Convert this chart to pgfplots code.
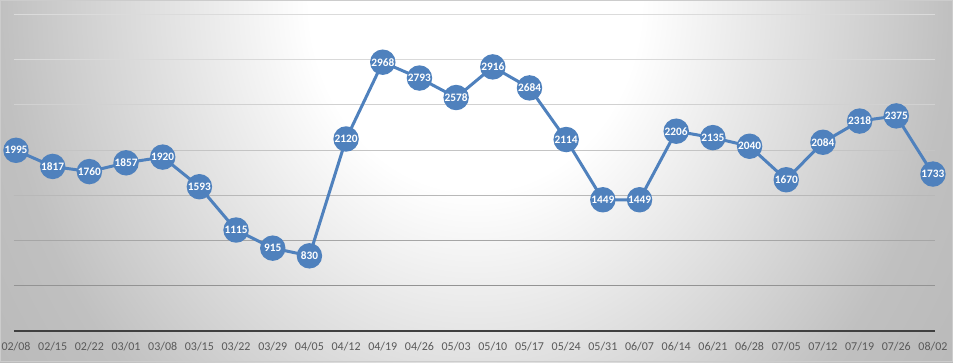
\documentclass[border=0pt]{standalone}
\usepackage{pgfplots}
\pgfplotsset{compat=1.18}
\usepackage{pgfplotstable}
\usepackage{fontspec}
\setmainfont{Carlito}
\definecolor{lineblue}{HTML}{4F81BD}
\definecolor{ticktext}{HTML}{595959}
\definecolor{axisdark}{HTML}{404040}
\definecolor{bgedge}{HTML}{C0C0C0}
\definecolor{bgcorner}{HTML}{B8B8B8}
\pgfdeclareradialshading{bgshade}{\pgfpoint{0bp}{0bp}}{color(0bp)=(white); color(6.9bp)=(white); color(19.8bp)=(bgedge); color(25bp)=(bgcorner); color(50bp)=(bgcorner)}

\pgfplotstableread{
d v
02/08 1995
02/15 1817
02/22 1760
03/01 1857
03/08 1920
03/15 1593
03/22 1115
03/29 915
04/05 830
04/12 2120
04/19 2968
04/26 2793
05/03 2578
05/10 2916
05/17 2684
05/24 2114
05/31 1449
06/07 1449
06/14 2206
06/21 2135
06/28 2040
07/05 1670
07/12 2084
07/19 2318
07/26 2375
08/02 1733
}\datatable

\begin{document}
\begin{tikzpicture}
\path[use as bounding box] (0,0) rectangle (714.75pt,271.5pt);
\begin{scope}
\clip (0,0) rectangle (714.75pt,271.5pt);
\shade[shading=bgshade] (356.25pt-450pt,271.5pt-517.5pt) rectangle (356.25pt+450pt,271.5pt+517.5pt);
\end{scope}
\draw[gray!40, line width=0.75pt] (0.375pt,0.375pt) rectangle (714.375pt,271.125pt);
\begin{axis}[
  at={(12pt,23.25pt)}, anchor=origin,
  scale only axis,
  width=690.75pt, height=237.75pt,
  xmin=-0.055, xmax=25.055,
  ymin=0, ymax=3500,
  clip=false,
  axis y line=none,
  axis x line*=bottom,
  x axis line style={-, draw=axisdark, line width=1.5pt},
  xtick=data,
  xticklabels from table={\datatable}{d},
  major tick length=0pt,
  xticklabel style={anchor=center, yshift=-11.5pt, font=\fontsize{9}{10}\selectfont, text=ticktext},
  ytick=\empty,
]
\draw[color=gray!28] (axis cs:-0.055,3500) -- (axis cs:25.055,3500);
\draw[color=gray!30] (axis cs:-0.055,3000) -- (axis cs:25.055,3000);
\draw[color=gray!36] (axis cs:-0.055,2500) -- (axis cs:25.055,2500);
\draw[color=gray!46] (axis cs:-0.055,2000) -- (axis cs:25.055,2000);
\draw[color=gray!56] (axis cs:-0.055,1500) -- (axis cs:25.055,1500);
\draw[color=gray!70] (axis cs:-0.055,1000) -- (axis cs:25.055,1000);
\draw[color=gray!85] (axis cs:-0.055,500) -- (axis cs:25.055,500);
\addplot[
  color=lineblue, line width=2.25pt,
  mark=*, mark size=8.4pt,
  mark options={fill=lineblue, draw=none},
  point meta=explicit symbolic,
  nodes near coords,
  every node near coord/.append style={anchor=center, text=white, font=\bfseries\fontsize{8.5}{9}\selectfont, inner sep=0pt},
] table[x expr=\coordindex, y=v, meta=v] {\datatable};
\end{axis}
\end{tikzpicture}
\end{document}
